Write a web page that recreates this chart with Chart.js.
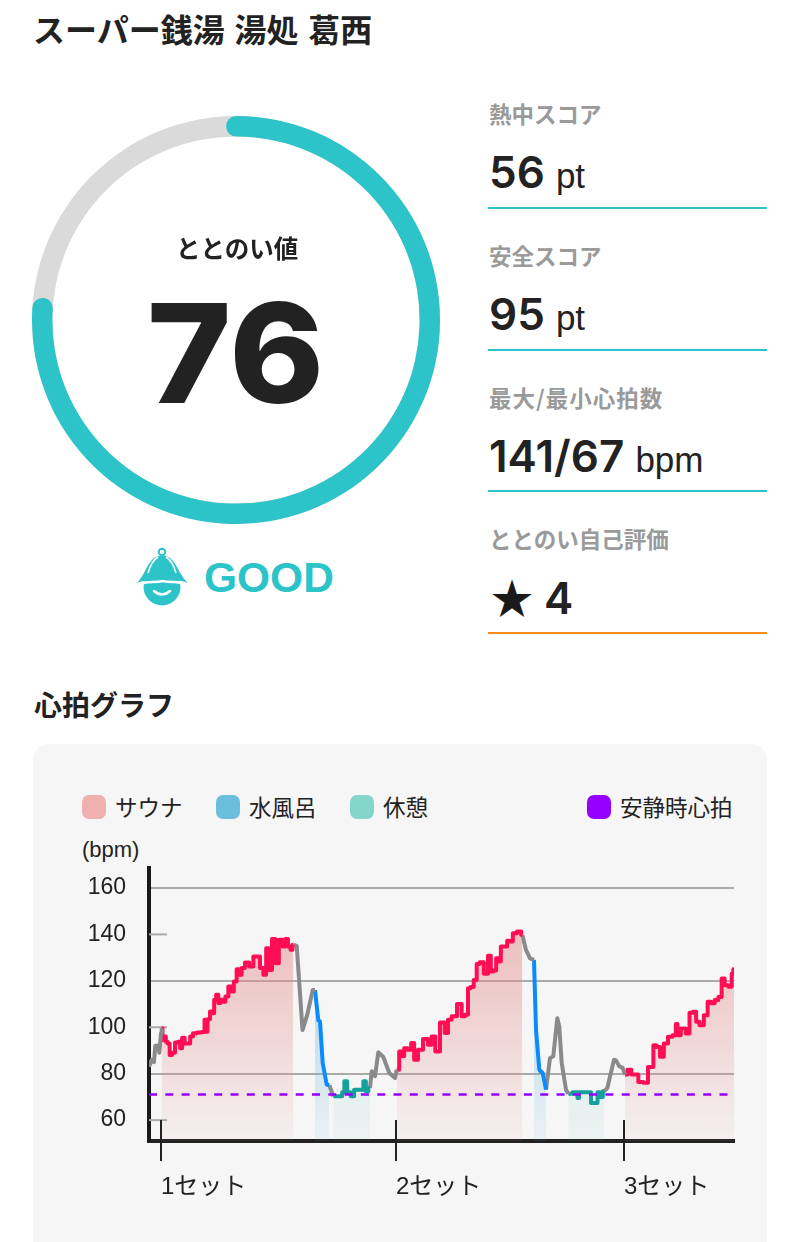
<!DOCTYPE html>
<html lang="ja">
<head>
<meta charset="utf-8">
<title>心拍グラフ</title>
<script src="https://cdn.jsdelivr.net/npm/chart.js@4"></script>
<style>
  html, body { margin: 0; padding: 0; background: #fff; }
  body { position: relative; width: 800px; height: 1242px; overflow: hidden; color: #222;
         font-family: "Liberation Sans", "Noto Sans CJK JP", sans-serif; }
  .abs { position: absolute; white-space: nowrap; line-height: 1; }
  .jp { font-family: "Noto Sans CJK JP", sans-serif; }
  .statLabel { left: 489px; font-size: 22.5px; font-weight: 700; color: #9a9a9a; }
  .statValue { left: 489px; font-size: 44px; font-weight: 600; font-family: "Inter", sans-serif; }
  .statValue small { font-size: 35px; font-weight: 400; font-family: "Liberation Sans", sans-serif; }
  .rule { left: 488px; width: 279px; height: 2px; background: #2cc4c8; }
  .swatch { width: 24px; height: 24px; border-radius: 7px; top: 795px; }
  .legendText { top: 795px; font-size: 22.5px; color: #222; }
  #panel { position: absolute; left: 33px; top: 744px; width: 734px; height: 520px; background: #f6f6f6; border-radius: 16px; }
  #ringBack, #ringFront { position: absolute; left: 32px; top: 116px; width: 408px; height: 408px; }
  #chartBox { position: absolute; left: 33px; top: 850px; width: 734px; height: 392px; }
</style>
</head>
<body>
<div class="abs jp" style="left:33px;top:12px;font-size:32px;font-weight:700;word-spacing:2.5px">スーパー銭湯 湯処 葛西</div>

<div id="ringBack"><canvas id="ringBackCanvas"></canvas></div>
<div id="ringFront"><canvas id="ringFrontCanvas"></canvas></div>
<div class="abs jp" style="left:176px;top:236px;font-size:24.5px;font-weight:700">ととのい値</div>
<div class="abs" id="scoreText" style="left:147px;top:284px;font-size:138px;font-weight:800;font-family:Inter,sans-serif;transform:scaleX(1.04);transform-origin:left center">76</div>

<svg class="abs" style="left:130px;top:540px" width="66" height="70" viewBox="0 0 66 70">
  <circle cx="32" cy="47" r="18.5" fill="#2cc4c8"/>
  <path d="M24 51 Q32 58 40 51" fill="none" stroke="#fff" stroke-width="2.5" stroke-linecap="round"/>
  <circle cx="32" cy="12" r="3.2" fill="none" stroke="#2cc4c8" stroke-width="2"/>
  <path d="M7 43 C14 36 16 26 22 20 C26 14 38 14 42 20 C48 26 50 36 58 43 C48 39 42 41 32.5 39 C24 41 16 39 7 43 Z" fill="#2cc4c8"/>
  <path d="M7 45 C16 41 24 43 32.5 41 C42 43 48 41 58 45" fill="none" stroke="#fff" stroke-width="2.5"/>
  <path d="M18 33 C20 26 23 20 28 17" fill="none" stroke="#fff" stroke-width="1.6"/>
  <path d="M46 33 C44 26 41 20 36 17" fill="none" stroke="#fff" stroke-width="1.6"/>
</svg>
<div class="abs" style="left:204px;top:557px;font-size:42.5px;font-weight:700;color:#2cc4c8">GOOD</div>

<div class="abs jp statLabel" style="top:102px">熱中スコア</div>
<div class="abs statValue" style="top:150px">56 <small>pt</small></div>
<div class="abs rule" style="top:207px"></div>
<div class="abs jp statLabel" style="top:244px">安全スコア</div>
<div class="abs statValue" style="top:292px">95 <small>pt</small></div>
<div class="abs rule" style="top:349px"></div>
<div class="abs jp statLabel" style="top:386px;letter-spacing:1px">最大/最小心拍数</div>
<div class="abs statValue" style="top:434px">141/67 <small>bpm</small></div>
<div class="abs rule" style="top:490px"></div>
<div class="abs jp statLabel" style="top:527px">ととのい自己評価</div>
<div class="abs statValue" style="top:575px;left:491px"><span class="jp" style="font-size:42px;color:#1a1a1a">★</span> 4</div>
<div class="abs rule" style="top:632px;background:#ff8c1a"></div>

<div class="abs jp" style="left:34px;top:690px;font-size:28px;font-weight:700">心拍グラフ</div>
<div id="panel"></div>

<div class="abs swatch" style="left:82px;background:#f0b0b0"></div>
<div class="abs jp legendText" style="left:115px">サウナ</div>
<div class="abs swatch" style="left:216px;background:#6bbfdc"></div>
<div class="abs jp legendText" style="left:249px">水風呂</div>
<div class="abs swatch" style="left:350px;background:#84d6cb"></div>
<div class="abs jp legendText" style="left:383px">休憩</div>
<div class="abs swatch" style="left:587px;background:#9500ff"></div>
<div class="abs jp legendText" style="left:620px">安静時心拍</div>
<div class="abs" style="left:82px;top:839px;font-size:22px;color:#222">(bpm)</div>

<div id="chartBox"><canvas id="heartChart"></canvas></div>

<script>
// ring score
const ringScore = 76;
const ringMax = 100;

// axis ticks and labels
const bpmTicks = [60, 80, 100, 120, 140, 160];
const fullGridTicks = [80, 120, 160];
const stubTicks = [60, 100, 140];
const setTicks = [12, 247, 475];
const setLabels = ['1セット', '2セット', '3セット'];
const restingBpm = 71;
const timeEnd = 585;

// heart rate
const heartTime = [
  0, 2.7, 5, 6.3, 9.7, 10.3, 12, 12.7, 14.3, 16, 17.7, 19.3, 22, 24.3, 27.7, 30.3, 32, 34.3, 37, 40.3, 42, 46, 50.3, 55,
  56, 57.7, 59.3, 62.7, 64.3, 66, 68.3, 70.3, 72.7, 75, 77.7, 81, 83.7, 86, 89.3, 91, 94.3, 97.7, 102.7, 106, 109.3, 112.7,
  116, 118.3, 121, 125, 127.7, 132, 135, 137.7, 140.3, 142.7, 144.3,
  147.7, 150.3, 153.5, 158.3, 163.7, 166, 169.3, 171, 173.7, 177.7, 180.3, 184.3,
  192.7, 193.7, 197, 199.3, 204.3, 206, 212.7, 216, 217.7, 221,
  222.7, 226, 229.3, 234.3, 240.3, 246, 247.7,
  252.7, 254.3, 256, 261, 263.3, 267, 271, 277, 281, 284.3, 288.3, 293.7, 297.7, 300.3, 305, 311, 314.3, 317.7, 320.3, 322.7,
  326.7, 328.7, 332.7, 337, 341, 342.7, 346, 348.3, 351, 352.7, 357, 359.3, 362.7, 365, 371, 373.3,
  377, 381, 385, 387, 390.3, 391.7, 393.7, 397,
  401, 404.3, 408.3, 410.3, 412.7, 417, 419.3,
  427.7, 429.3, 431, 440.3, 443.7, 447.7, 449.3, 452.7, 455,
  458.3, 465, 467, 470.3, 473.7, 476,
  481, 483.7, 487.7, 491, 497.7, 500.3, 502.7, 506, 509.3, 512.7, 517, 521, 526, 527.7, 529.3, 534.3, 539.3, 541.7, 546,
  548.3, 552.7, 557, 560.3, 563.7, 567.7, 571, 574.3, 577, 581.7, 583.7, 585
];
const heartBpm = [
  83, 86, 85, 92, 92, 89, 97.4, 99.6, 94.5, 96, 93.8, 93, 88, 89, 93.4, 93.8, 91, 95.5, 93, 93, 96, 97.4, 97.7, 98,
  103.2, 98.1, 103.5, 106.8, 106, 111.8, 114, 110.4, 111.8, 111, 113.2, 117.6, 115.4, 119.7, 125, 122.6, 125.5, 127.9, 126.2, 130.5, 130.5, 125.5,
  122.6, 134, 124.7, 138, 127.6, 137.7, 134.8, 138, 134.8, 133.4, 135.5,
  135, 119, 98.8, 105.4, 116, 116, 103, 102.5, 84.6, 75.3, 75, 70.3,
  70.3, 72, 76.7, 72, 70.3, 73.1, 73.1, 76.7, 72.4, 73.8,
  81, 78.9, 89.2, 87.2, 80.3, 78.1, 81.7,
  89.6, 87.5, 91, 90.3, 93.2, 86, 90.3, 94.9, 92.5, 96, 89.6, 102, 97.5, 103.2, 104.7, 110, 104.7, 105.4, 116.8, 117.3,
  120.4, 127.3, 128, 123, 130.8, 124, 124.4, 129.7, 128.3, 134.8, 134.8, 137.3, 136.9, 140.5, 141.2, 139.8,
  133.3, 129.7, 129, 99, 81.7, 81, 80.3, 73.1,
  86.7, 87.5, 103.9, 100.3, 84.6, 73.1, 71.4,
  72, 69.5, 72, 72, 67.4, 67.4, 72, 70, 72.4,
  73.8, 86, 85.7, 83.2, 82.5, 79.6,
  81.7, 79.6, 79.6, 76.4, 76.1, 82.9, 82.9, 92.2, 91.5, 87.3, 93, 95.9, 96.6, 101.4, 96.6, 99.5, 97.3, 106.2, 106.7,
  102.4, 100.9, 105.2, 111, 110.3, 111.7, 113, 121, 118.1, 117.4, 123, 125
];

// phases: kind and the time each phase ends
const phaseKinds = ['move', 'sauna', 'move', 'cold', 'move', 'rest', 'move', 'sauna', 'move', 'cold', 'move', 'rest', 'move', 'sauna'];
const phaseEnds = [12.7, 144.3, 166, 180.3, 184.3, 221, 247.7, 373.3, 385, 397, 419.3, 455, 476, 585];

const lineColors = { move: '#8a8a8a', sauna: '#ff0d55', cold: '#0a8cff', rest: '#14a09c' };
const fillColors = {
  sauna: ['rgba(228,140,140,0.52)', 'rgba(228,140,140,0.06)'],
  cold: ['rgba(90,175,210,0.50)', 'rgba(90,175,210,0.07)'],
  rest: ['rgba(110,200,185,0.34)', 'rgba(110,200,185,0.06)']
};

function phaseFill(kind) {
  return function (ctx) {
    const chart = ctx.chart;
    if (!chart.chartArea) return 'transparent';
    const g = chart.ctx.createLinearGradient(0, chart.scales.y.getPixelForValue(140), 0, chart.chartArea.bottom);
    g.addColorStop(0, fillColors[kind][0]);
    g.addColorStop(1, fillColors[kind][1]);
    return g;
  };
}

// one dataset for each phase, they share the point where they meet
const datasets = [{
  data: [{ x: 0, y: restingBpm }, { x: timeEnd, y: restingBpm }],
  borderColor: '#9500ff',
  borderWidth: 2.5,
  borderDash: [8, 8.3],
  pointRadius: 0,
  fill: false,
  order: 0
}];
phaseKinds.forEach((kind, i) => {
  const from = i === 0 ? 0 : phaseEnds[i - 1];
  const points = [];
  heartTime.forEach((t, k) => {
    if (t >= from && t <= phaseEnds[i]) points.push({ x: t, y: heartBpm[k] });
  });
  datasets.push({
    data: points,
    borderColor: lineColors[kind],
    borderWidth: 4,
    borderJoinStyle: 'round',
    pointRadius: 0,
    tension: 0,
    stepped: kind === 'sauna' || kind === 'rest' ? 'middle' : false,
    fill: kind === 'move' ? false : 'start',
    backgroundColor: kind === 'move' ? 'transparent' : phaseFill(kind),
    order: 1
  });
});

// short stubs on the axes
const axisStubs = {
  id: 'axisStubs',
  beforeDatasetsDraw(chart) {
    const { ctx, scales } = chart;
    ctx.save();
    ctx.strokeStyle = '#aaaaaa';
    ctx.lineWidth = 2;
    stubTicks.forEach(v => {
      const py = scales.y.getPixelForValue(v);
      ctx.beginPath();
      ctx.moveTo(scales.x.left, py);
      ctx.lineTo(scales.x.getPixelForValue(18), py);
      ctx.stroke();
    });
    ctx.restore();
  },
  afterDatasetsDraw(chart) {
    const { ctx, scales } = chart;
    ctx.save();
    ctx.strokeStyle = '#222222';
    ctx.lineWidth = 2;
    setTicks.forEach(t => {
      const px = scales.x.getPixelForValue(t);
      ctx.beginPath();
      ctx.moveTo(px, scales.y.getPixelForValue(60));
      ctx.lineTo(px, scales.y.bottom);
      ctx.stroke();
    });
    ctx.restore();
  }
};

Chart.defaults.animation = false;

new Chart(document.getElementById('ringBackCanvas'), {
  type: 'doughnut',
  data: { datasets: [{ data: [ringMax], backgroundColor: '#dadada', borderWidth: 0 }] },
  options: { responsive: true, maintainAspectRatio: false, cutout: '90%', plugins: { legend: { display: false }, tooltip: { enabled: false } } }
});

// round caps stick out a bit past both ends of the value
const capDeg = 2.9;
new Chart(document.getElementById('ringFrontCanvas'), {
  type: 'doughnut',
  data: { datasets: [{ data: [ringScore], backgroundColor: '#2cc4c8', borderWidth: 0, borderRadius: 10 }] },
  options: {
    responsive: true,
    maintainAspectRatio: false,
    cutout: '90%',
    rotation: -capDeg,
    circumference: ringScore / ringMax * 360 + capDeg * 2,
    plugins: { legend: { display: false }, tooltip: { enabled: false } }
  }
});

new Chart(document.getElementById('heartChart'), {
  type: 'line',
  data: { datasets: datasets },
  plugins: [axisStubs],
  options: {
    responsive: true,
    maintainAspectRatio: false,
    layout: { padding: { top: 18, right: 33, left: 0, bottom: 0 } },
    plugins: { legend: { display: false }, tooltip: { enabled: false } },
    scales: {
      x: {
        type: 'linear',
        min: 0,
        max: timeEnd,
        afterBuildTicks: axis => { axis.ticks = setTicks.map(v => ({ value: v })); },
        afterFit: axis => { axis.height = 101; },
        border: { color: '#222222', width: 4 },
        grid: { drawOnChartArea: false, color: '#222222', lineWidth: 2, tickLength: 20 },
        ticks: {
          autoSkip: false,
          maxRotation: 0,
          align: 'start',
          padding: 12,
          color: '#222222',
          font: { family: '"Liberation Sans", "Noto Sans CJK JP"', size: 24 },
          callback: value => setLabels[setTicks.indexOf(value)]
        }
      },
      y: {
        min: 51,
        max: 168.6,
        afterBuildTicks: axis => { axis.ticks = bpmTicks.map(v => ({ value: v })); },
        afterFit: axis => { axis.width = 116; axis.paddingTop = 0; axis.paddingBottom = 0; },
        border: { color: '#1a1a1a', width: 4 },
        grid: {
          drawTicks: false,
          lineWidth: 2,
          color: ctx => fullGridTicks.includes(ctx.tick.value) ? '#aaaaaa' : 'transparent'
        },
        ticks: {
          padding: 23,
          labelOffset: 0,
          color: '#222222',
          font: { family: '"Liberation Sans"', size: 23 }
        }
      }
    }
  }
});
</script>
</body>
</html>
